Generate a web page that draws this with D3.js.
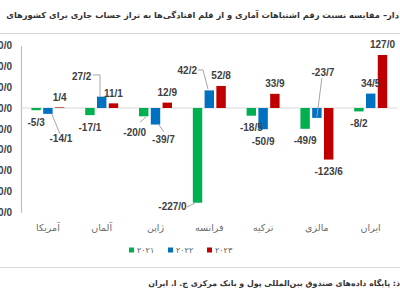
<!DOCTYPE html>
<html><head><meta charset="utf-8">
<script src="https://cdn.jsdelivr.net/npm/d3@7/dist/d3.min.js"></script>
<style>
html,body{margin:0;padding:0;background:#fff;overflow:hidden;}
svg{display:block;}
</style></head>
<body>
<svg id="chart" width="400" height="300"></svg>
<script>
const categories = ["آمریکا","آلمان","ژاپن","فرانسه","ترکیه","مالزی","ایران"];
const seriesNames = ["۲۰۲۱","۲۰۲۲","۲۰۲۳"];
const values2021 = [-5.3,-17.1,-20.0,-227.0,-18.5,-49.9,-8.2];
const values2022 = [-14.1,27.2,-39.7,42.2,-50.9,-23.7,34.5];
const values2023 = [1.4,11.1,12.9,52.8,33.9,-123.6,127.0];
const yTicks = [-250,-200,-150,-100,-50,0,50,100,150];
const titleText = "دار– مقایسه نسبت رقم اشتباهات آماری و از قلم افتادگی‌ها به تراز حساب جاری برای کشورهای";
const sourceText = "ذ: پایگاه داده‌های صندوق بین‌المللی پول و بانک مرکزی ج. ا. ایران";

const colors = ["#00b050","#0070c0","#c00000"];
const seriesValues = [values2021, values2022, values2023];

// manually moved labels (offsets from bar end, leader points relative to bar end)
const moved = {
  "0|1": {dx:13, dy:25, leader:[[4,0.3],[12,20]]},
  "1|1": {dx:-20, dy:-20, leader:[[-8.7,-21.7],[-1.7,-21.7],[-1.7,0]]},
  "2|0": {dx:-9, dy:16, leader:[[-3.7,5.7],[2.3,0.7]]},
  "2|1": {dx:8, dy:14.5, leader:[[3.5,0.4],[8.5,7.4]]},
  "3|1": {dx:-22, dy:-20, leader:[[-11.3,-20.4],[-6.3,-20.4],[-1.3,-1.4]]},
  "3|0": {dx:-25, dy:4, leader:[[-10.5,4.3],[-2.5,0.3]]},
  "5|1": {dx:6, dy:-45, leader:[[5,-40],[0,-1]]}
};

const fmt = v => (v < 0 ? "-" : "") + Math.abs(v).toFixed(1).replace(".", "/");

const svg = d3.select("#chart");

// separators
svg.append("line").attr("x1",0).attr("x2",400).attr("y1",33.5).attr("y2",33.5).attr("stroke","#d9d9d9").attr("stroke-width",1);
svg.append("line").attr("x1",0).attr("x2",400).attr("y1",267.5).attr("y2",267.5).attr("stroke","#d9d9d9").attr("stroke-width",1);

// title
const title = svg.append("text").attr("x",399).attr("y",18)
  .attr("text-anchor","end")
  .style("font-family","'DejaVu Sans', 'Noto Sans', sans-serif")
  .style("font-weight","bold").style("font-size","12px").style("fill","#333")
  .text(titleText);
{
  const w = title.node().getComputedTextLength();
  title.style("font-size", (12 * 393 / w) + "px");
}
const source = svg.append("text").attr("x",400).attr("y",286)
  .attr("text-anchor","end")
  .style("font-family","'DejaVu Sans', 'Noto Sans', sans-serif")
  .style("font-weight","bold").style("font-size","10px").style("fill","#333")
  .text(sourceText);
{
  const w = source.node().getComputedTextLength();
  source.style("font-size", (10 * 252 / w) + "px");
}

const x0 = d3.scaleBand().domain(categories).range([21, 397.6]).paddingInner(0.387).paddingOuter(0.1935);
const x1 = d3.scaleBand().domain(seriesNames).range([0, x0.bandwidth()]).paddingInner(0.2);
const y = d3.scaleLinear().domain([-250, 150]).range([212.3, 45.4]);

// y axis
const yAxis = svg.append("g").attr("transform","translate(21,0)")
  .call(d3.axisLeft(y).tickValues(yTicks).tickSize(0).tickPadding(9).tickFormat(fmt));
yAxis.select(".domain").attr("stroke","#bfbfbf").attr("stroke-width",1.2);
yAxis.selectAll("text").style("font-family","'Liberation Sans', Arial, sans-serif")
  .style("font-size","10px").style("font-weight","bold").style("fill","#404040");

// zero line
svg.append("line").attr("x1",21).attr("x2",397.6).attr("y1",y(0)).attr("y2",y(0))
  .attr("stroke","#d9d9d9").attr("stroke-width",1);

// data
const data = [];
categories.forEach((c, ci) => {
  seriesNames.forEach((s, si) => {
    data.push({c, ci, s, si, v: seriesValues[si][ci]});
  });
});

svg.append("g").selectAll("rect").data(data).join("rect")
  .attr("x", d => x0(d.c) + x1(d.s))
  .attr("width", x1.bandwidth())
  .attr("y", d => y(Math.max(0, d.v)))
  .attr("height", d => Math.abs(y(d.v) - y(0)))
  .attr("fill", d => colors[d.si]);

// leaders
const lineGen = d3.line();
data.forEach(d => {
  const m = moved[d.ci + "|" + d.si];
  if (!m) return;
  const ax = x0(d.c) + x1(d.s) + x1.bandwidth() / 2;
  const ay = y(d.v);
  svg.append("path").attr("d", lineGen(m.leader.map(p => [ax + p[0], ay + p[1]])))
    .attr("fill","none").attr("stroke","#a6a6a6").attr("stroke-width",1);
});

// labels
svg.append("g").selectAll("text").data(data).join("text")
  .attr("x", d => {
    const ax = x0(d.c) + x1(d.s) + x1.bandwidth() / 2;
    const m = moved[d.ci + "|" + d.si];
    return m ? ax + m.dx : ax;
  })
  .attr("y", d => {
    const ay = y(d.v);
    const m = moved[d.ci + "|" + d.si];
    if (m) return ay + m.dy;
    return d.v >= 0 ? ay - 10 : ay + 12;
  })
  .attr("text-anchor","middle").attr("dominant-baseline","central")
  .style("font-family","'Liberation Sans', Arial, sans-serif")
  .style("font-size","10px").style("font-weight","bold").style("fill","#404040")
  .text(d => fmt(d.v));

// category labels
svg.append("g").selectAll("text").data(categories).join("text")
  .attr("x", d => x0(d) + x0.bandwidth() / 2)
  .attr("y", 227)
  .attr("text-anchor","middle").attr("dominant-baseline","central")
  .style("font-family","'DejaVu Sans', sans-serif")
  .style("font-size","9.5px").style("fill","#6b6b6b")
  .text(d => d);

// legend
const legendX = [129, 168, 207];
const lg = svg.append("g").selectAll("g").data(seriesNames).join("g")
  .attr("transform", (d, i) => `translate(${legendX[i]},250)`);
lg.append("rect").attr("x",0).attr("y",-2.5).attr("width",5).attr("height",5)
  .attr("fill", (d, i) => colors[i]);
lg.append("text").attr("x",8).attr("y",0).attr("dominant-baseline","central")
  .style("font-family","'DejaVu Sans', sans-serif").style("font-size","8px")
  .style("letter-spacing","2.5px").style("fill","#595959")
  .text(d => d);
</script>
</body></html>
